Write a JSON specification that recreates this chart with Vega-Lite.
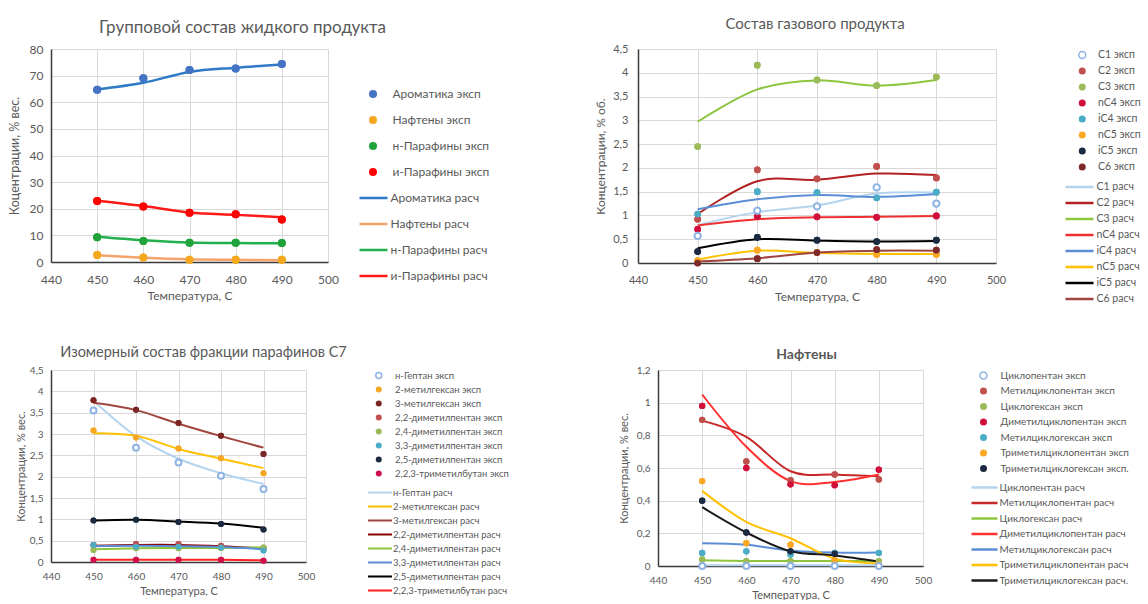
{
"$schema": "https://vega.github.io/schema/vega-lite/v6.json",
"background": "white",
"padding": {"left": 8, "top": 17, "right": 0, "bottom": 0},
"spacing": 39,
"resolve": {"scale": {"fill": "independent", "stroke": "independent"}, "legend": {"fill": "independent", "stroke": "independent"}},
"vconcat": [
{"spacing": 102,
 "resolve": {"scale": {"fill": "independent", "stroke": "independent"}, "legend": {"fill": "independent", "stroke": "independent"}},
 "hconcat": [
{
 "title": {"text": "Групповой состав жидкого продукта", "fontSize": 17, "offset": 6, "dx": 53},
 "width": 277, "height": 213,
 "data": {"values": [
  {"s":"Ароматика эксп","t":450,"v":64.7},{"s":"Ароматика эксп","t":460,"v":69.0},{"s":"Ароматика эксп","t":470,"v":72.1},{"s":"Ароматика эксп","t":480,"v":72.7},{"s":"Ароматика эксп","t":490,"v":74.4},
  {"s":"Нафтены эксп","t":450,"v":2.6},{"s":"Нафтены эксп","t":460,"v":1.7},{"s":"Нафтены эксп","t":470,"v":0.8},{"s":"Нафтены эксп","t":480,"v":0.8},{"s":"Нафтены эксп","t":490,"v":0.8},
  {"s":"н-Парафины эксп","t":450,"v":9.3},{"s":"н-Парафины эксп","t":460,"v":7.9},{"s":"н-Парафины эксп","t":470,"v":7.2},{"s":"н-Парафины эксп","t":480,"v":7.2},{"s":"н-Парафины эксп","t":490,"v":7.1},
  {"s":"и-Парафины эксп","t":450,"v":22.9},{"s":"и-Парафины эксп","t":460,"v":20.8},{"s":"и-Парафины эксп","t":470,"v":18.5},{"s":"и-Парафины эксп","t":480,"v":17.9},{"s":"и-Парафины эксп","t":490,"v":16.0},
  {"s":"Ароматика расч","t":450,"v":64.8},{"s":"Ароматика расч","t":460,"v":67.3},{"s":"Ароматика расч","t":470,"v":71.4},{"s":"Ароматика расч","t":480,"v":73.0},{"s":"Ароматика расч","t":490,"v":74.2},
  {"s":"Нафтены расч","t":450,"v":2.5},{"s":"Нафтены расч","t":460,"v":1.6},{"s":"Нафтены расч","t":470,"v":1.0},{"s":"Нафтены расч","t":480,"v":0.8},{"s":"Нафтены расч","t":490,"v":0.7},
  {"s":"н-Парафины расч","t":450,"v":9.5},{"s":"н-Парафины расч","t":460,"v":8.2},{"s":"н-Парафины расч","t":470,"v":7.3},{"s":"н-Парафины расч","t":480,"v":7.1},{"s":"н-Парафины расч","t":490,"v":7.0},
  {"s":"и-Парафины расч","t":450,"v":23.0},{"s":"и-Парафины расч","t":460,"v":21.0},{"s":"и-Парафины расч","t":470,"v":18.6},{"s":"и-Парафины расч","t":480,"v":17.7},{"s":"и-Парафины расч","t":490,"v":16.8}
 ]},
 "encoding": {
  "x": {"field":"t","type":"quantitative","scale":{"domain":[440,500],"nice":false},"axis":{"values":[440,450,460,470,480,490,500],"labelFlush":false,"title":"Температура, С","labelFontSize":12,"titleFontSize":12,"labelPadding":12,"titlePadding":5}},
  "y": {"field":"v","type":"quantitative","scale":{"domain":[0,80],"nice":false},"axis":{"values":[0,10,20,30,40,50,60,70,80],"title":"Коцентрации, % вес.","labelFontSize":12,"titleFontSize":12.5,"labelPadding":8,"titlePadding":8}}
 },
 "layer": [
  {"transform":[{"filter":"indexof(datum.s,'эксп')>=0"}],
   "mark":{"type":"point","shape":"circle","filled":true,"opacity":1,"size":64},
   "encoding":{"fill":{"field":"s","type":"nominal",
     "scale":{"domain":["Ароматика эксп","Нафтены эксп","н-Парафины эксп","и-Парафины эксп"],"range":["#4472C4","#F4A81D","#1FA33A","#FF0000"]},
     "legend":{"title":" ","titleFontSize":12,"titlePadding":24,"padding":2,"symbolType":"circle","symbolSize":64,"symbolOffset":9,"labelOffset":13.5,"labelFontSize":12,"clipHeight":14,"rowPadding":12,"offset":28}}}},
  {"transform":[{"filter":"indexof(datum.s,'расч')>=0"}],
   "mark":{"type":"line","interpolate":"cardinal","strokeWidth":2.5},
   "encoding":{"stroke":{"field":"s","type":"nominal",
     "scale":{"domain":["Ароматика расч","Нафтены расч","н-Парафины расч","и-Парафины расч"],"range":["#2F7AC6","#F4A46A","#21B04B","#FF1A1A"]},
     "legend":{"title":null,"padding":2,"symbolType":"stroke","symbolSize":784,"symbolStrokeWidth":2.5,"labelOffset":1.5,"labelFontSize":12,"clipHeight":14,"rowPadding":12,"offset":28}}}},
  {"transform":[{"filter":"indexof(datum.s,'эксп')>=0"}],
   "mark":{"type":"point","shape":"circle","filled":true,"opacity":1,"size":64},
   "encoding":{"fill":{"field":"s","type":"nominal",
     "scale":{"domain":["Ароматика эксп","Нафтены эксп","н-Парафины эксп","и-Парафины эксп"],"range":["#4472C4","#F4A81D","#1FA33A","#FF0000"]},
     "legend":null}}}
 ]
},
{
 "title": {"text": "Состав газового продукта", "fontSize": 15, "offset": 11, "dx": -2},
 "width": 358, "height": 214,
 "data": {"values": [
  {"s":"C1 эксп","t":450,"v":0.57},{"s":"C1 эксп","t":460,"v":1.10},{"s":"C1 эксп","t":470,"v":1.19},{"s":"C1 эксп","t":480,"v":1.59},{"s":"C1 эксп","t":490,"v":1.25},
  {"s":"C2 эксп","t":450,"v":0.92},{"s":"C2 эксп","t":460,"v":1.96},{"s":"C2 эксп","t":470,"v":1.77},{"s":"C2 эксп","t":480,"v":2.03},{"s":"C2 эксп","t":490,"v":1.79},
  {"s":"C3 эксп","t":450,"v":2.45},{"s":"C3 эксп","t":460,"v":4.16},{"s":"C3 эксп","t":470,"v":3.85},{"s":"C3 эксп","t":480,"v":3.73},{"s":"C3 эксп","t":490,"v":3.91},
  {"s":"nC4 эксп","t":450,"v":0.71},{"s":"nC4 эксп","t":460,"v":0.98},{"s":"nC4 эксп","t":470,"v":0.97},{"s":"nC4 эксп","t":480,"v":0.96},{"s":"nC4 эксп","t":490,"v":0.99},
  {"s":"iC4 эксп","t":450,"v":1.03},{"s":"iC4 эксп","t":460,"v":1.50},{"s":"iC4 эксп","t":470,"v":1.48},{"s":"iC4 эксп","t":480,"v":1.37},{"s":"iC4 эксп","t":490,"v":1.49},
  {"s":"nC5 эксп","t":450,"v":0.05},{"s":"nC5 эксп","t":460,"v":0.27},{"s":"nC5 эксп","t":470,"v":0.22},{"s":"nC5 эксп","t":480,"v":0.18},{"s":"nC5 эксп","t":490,"v":0.18},
  {"s":"iC5 эксп","t":450,"v":0.24},{"s":"iC5 эксп","t":460,"v":0.54},{"s":"iC5 эксп","t":470,"v":0.48},{"s":"iC5 эксп","t":480,"v":0.45},{"s":"iC5 эксп","t":490,"v":0.48},
  {"s":"C6 эксп","t":450,"v":0.0},{"s":"C6 эксп","t":460,"v":0.09},{"s":"C6 эксп","t":470,"v":0.22},{"s":"C6 эксп","t":480,"v":0.28},{"s":"C6 эксп","t":490,"v":0.27},
  {"s":"C1 расч","t":450,"v":0.80},{"s":"C1 расч","t":460,"v":1.07},{"s":"C1 расч","t":470,"v":1.21},{"s":"C1 расч","t":480,"v":1.46},{"s":"C1 расч","t":490,"v":1.48},
  {"s":"C2 расч","t":450,"v":1.03},{"s":"C2 расч","t":460,"v":1.72},{"s":"C2 расч","t":470,"v":1.75},{"s":"C2 расч","t":480,"v":1.88},{"s":"C2 расч","t":490,"v":1.85},
  {"s":"C3 расч","t":450,"v":2.97},{"s":"C3 расч","t":460,"v":3.65},{"s":"C3 расч","t":470,"v":3.84},{"s":"C3 расч","t":480,"v":3.73},{"s":"C3 расч","t":490,"v":3.85},
  {"s":"nC4 расч","t":450,"v":0.79},{"s":"nC4 расч","t":460,"v":0.92},{"s":"nC4 расч","t":470,"v":0.96},{"s":"nC4 расч","t":480,"v":0.97},{"s":"nC4 расч","t":490,"v":0.99},
  {"s":"iC4 расч","t":450,"v":1.13},{"s":"iC4 расч","t":460,"v":1.34},{"s":"iC4 расч","t":470,"v":1.43},{"s":"iC4 расч","t":480,"v":1.39},{"s":"iC4 расч","t":490,"v":1.45},
  {"s":"nC5 расч","t":450,"v":0.07},{"s":"nC5 расч","t":460,"v":0.26},{"s":"nC5 расч","t":470,"v":0.21},{"s":"nC5 расч","t":480,"v":0.19},{"s":"nC5 расч","t":490,"v":0.19},
  {"s":"iC5 расч","t":450,"v":0.31},{"s":"iC5 расч","t":460,"v":0.50},{"s":"iC5 расч","t":470,"v":0.47},{"s":"iC5 расч","t":480,"v":0.45},{"s":"iC5 расч","t":490,"v":0.46},
  {"s":"C6 расч","t":450,"v":0.03},{"s":"C6 расч","t":460,"v":0.10},{"s":"C6 расч","t":470,"v":0.22},{"s":"C6 расч","t":480,"v":0.26},{"s":"C6 расч","t":490,"v":0.26}
 ]},
 "encoding": {
  "x": {"field":"t","type":"quantitative","scale":{"domain":[440,500],"nice":false},"axis":{"values":[440,450,460,470,480,490,500],"labelFlush":false,"title":"Температура, С","labelFontSize":11,"titleFontSize":12,"labelPadding":11,"titlePadding":6}},
  "y": {"field":"v","type":"quantitative","scale":{"domain":[0,4.5],"nice":false},"axis":{"values":[0,0.5,1,1.5,2,2.5,3,3.5,4,4.5],"labelExpr":"replace(format(datum.value,'~g'),'.',',')","title":"Концентрации, % об.","labelFontSize":11,"titleFontSize":12,"labelPadding":10,"titlePadding":5}}
 },
 "layer": [
  {"transform":[{"filter":"indexof(datum.s,'эксп')>=0"}],
   "mark":{"type":"point","shape":"circle","filled":true,"opacity":1,"size":45},
   "encoding":{"fill":{"field":"s","type":"nominal",
     "scale":{"domain":["C1 эксп","C2 эксп","C3 эксп","nC4 эксп","iC4 эксп","nC5 эксп","iC5 эксп","C6 эксп"],"range":["white","#C0504D","#9BBB59","#D0103A","#4BACC6","#F9A825","#1B2A41","#7F2A2A"]},
     "legend":{"title":null,"symbolType":"circle","symbolSize":49,"symbolOffset":13,"labelOffset":10.5,"labelFontSize":10.5,"clipHeight":12,"rowPadding":4,"offset":68,
       "symbolStrokeWidth":1.5,"symbolStrokeColor":{"expr":"datum.value==='C1 эксп' ? '#8DB4E2' : 'transparent'"}}}}},
  {"transform":[{"filter":"indexof(datum.s,'расч')>=0"}],
   "mark":{"type":"line","interpolate":"cardinal","strokeWidth":2},
   "encoding":{"stroke":{"field":"s","type":"nominal",
     "scale":{"domain":["C1 расч","C2 расч","C3 расч","nC4 расч","iC4 расч","nC5 расч","iC5 расч","C6 расч"],"range":["#B4D4EE","#B22222","#8CC63F","#F03030","#5B8ED6","#FFC000","#000000","#A0453F"]},
     "legend":{"title":null,"symbolType":"stroke","symbolSize":784,"symbolStrokeWidth":2.5,"labelOffset":1.5,"labelFontSize":10.5,"clipHeight":12,"rowPadding":4,"offset":68}}}},
  {"transform":[{"filter":"indexof(datum.s,'эксп')>=0"}],
   "mark":{"type":"point","shape":"circle","filled":true,"opacity":1,"size":45},
   "encoding":{"fill":{"field":"s","type":"nominal",
     "scale":{"domain":["C1 эксп","C2 эксп","C3 эксп","nC4 эксп","iC4 эксп","nC5 эксп","iC5 эксп","C6 эксп"],"range":["white","#C0504D","#9BBB59","#D0103A","#4BACC6","#F9A825","#1B2A41","#7F2A2A"]},
     "legend":null}}},
  {"transform":[{"filter":"datum.s==='C1 эксп'"}],
   "mark":{"type":"point","shape":"circle","filled":true,"fill":"white","stroke":"#8DB4E2","strokeWidth":2,"opacity":1,"size":40}}
 ]
}
]},
{"spacing": 109,
 "resolve": {"scale": {"fill": "independent", "stroke": "independent"}, "legend": {"fill": "independent", "stroke": "independent"}},
 "hconcat": [
{
 "title": {"text": "Изомерный состав фракции парафинов С7", "fontSize": 14.5, "offset": 5, "dx": 25},
 "width": 255, "height": 192,
 "data": {"values": [
  {"s":"н-Гептан эксп","t":450,"v":3.55},{"s":"н-Гептан эксп","t":460,"v":2.68},{"s":"н-Гептан эксп","t":470,"v":2.33},{"s":"н-Гептан эксп","t":480,"v":2.02},{"s":"н-Гептан эксп","t":490,"v":1.71},
  {"s":"2-метилгексан эксп","t":450,"v":3.08},{"s":"2-метилгексан эксп","t":460,"v":2.92},{"s":"2-метилгексан эксп","t":470,"v":2.66},{"s":"2-метилгексан эксп","t":480,"v":2.43},{"s":"2-метилгексан эксп","t":490,"v":2.08},
  {"s":"3-метилгексан эксп","t":450,"v":3.79},{"s":"3-метилгексан эксп","t":460,"v":3.57},{"s":"3-метилгексан эксп","t":470,"v":3.26},{"s":"3-метилгексан эксп","t":480,"v":2.96},{"s":"3-метилгексан эксп","t":490,"v":2.53},
  {"s":"2,2-диметилпентан эксп","t":450,"v":0.40},{"s":"2,2-диметилпентан эксп","t":460,"v":0.42},{"s":"2,2-диметилпентан эксп","t":470,"v":0.42},{"s":"2,2-диметилпентан эксп","t":480,"v":0.38},{"s":"2,2-диметилпентан эксп","t":490,"v":0.33},
  {"s":"2,4-диметилпентан эксп","t":450,"v":0.28},{"s":"2,4-диметилпентан эксп","t":460,"v":0.32},{"s":"2,4-диметилпентан эксп","t":470,"v":0.32},{"s":"2,4-диметилпентан эксп","t":480,"v":0.33},{"s":"2,4-диметилпентан эксп","t":490,"v":0.34},
  {"s":"3,3-диметилпентан эксп","t":450,"v":0.40},{"s":"3,3-диметилпентан эксп","t":460,"v":0.36},{"s":"3,3-диметилпентан эксп","t":470,"v":0.36},{"s":"3,3-диметилпентан эксп","t":480,"v":0.34},{"s":"3,3-диметилпентан эксп","t":490,"v":0.27},
  {"s":"2,5-диметилпентан эксп","t":450,"v":0.97},{"s":"2,5-диметилпентан эксп","t":460,"v":0.99},{"s":"2,5-диметилпентан эксп","t":470,"v":0.94},{"s":"2,5-диметилпентан эксп","t":480,"v":0.89},{"s":"2,5-диметилпентан эксп","t":490,"v":0.76},
  {"s":"2,2,3-триметилбутан эксп","t":450,"v":0.05},{"s":"2,2,3-триметилбутан эксп","t":460,"v":0.05},{"s":"2,2,3-триметилбутан эксп","t":470,"v":0.05},{"s":"2,2,3-триметилбутан эксп","t":480,"v":0.05},{"s":"2,2,3-триметилбутан эксп","t":490,"v":0.03},
  {"s":"н-Гептан расч","t":450,"v":3.78},{"s":"н-Гептан расч","t":460,"v":2.95},{"s":"н-Гептан расч","t":470,"v":2.42},{"s":"н-Гептан расч","t":480,"v":2.08},{"s":"н-Гептан расч","t":490,"v":1.83},
  {"s":"2-метилгексан расч","t":450,"v":3.02},{"s":"2-метилгексан расч","t":460,"v":2.96},{"s":"2-метилгексан расч","t":470,"v":2.65},{"s":"2-метилгексан расч","t":480,"v":2.42},{"s":"2-метилгексан расч","t":490,"v":2.20},
  {"s":"3-метилгексан расч","t":450,"v":3.73},{"s":"3-метилгексан расч","t":460,"v":3.56},{"s":"3-метилгексан расч","t":470,"v":3.24},{"s":"3-метилгексан расч","t":480,"v":2.95},{"s":"3-метилгексан расч","t":490,"v":2.68},
  {"s":"2,2-диметилпентан расч","t":450,"v":0.38},{"s":"2,2-диметилпентан расч","t":460,"v":0.40},{"s":"2,2-диметилпентан расч","t":470,"v":0.40},{"s":"2,2-диметилпентан расч","t":480,"v":0.37},{"s":"2,2-диметилпентан расч","t":490,"v":0.32},
  {"s":"2,4-диметилпентан расч","t":450,"v":0.30},{"s":"2,4-диметилпентан расч","t":460,"v":0.32},{"s":"2,4-диметилпентан расч","t":470,"v":0.33},{"s":"2,4-диметилпентан расч","t":480,"v":0.33},{"s":"2,4-диметилпентан расч","t":490,"v":0.34},
  {"s":"3,3-диметилпентан расч","t":450,"v":0.37},{"s":"3,3-диметилпентан расч","t":460,"v":0.38},{"s":"3,3-диметилпентан расч","t":470,"v":0.37},{"s":"3,3-диметилпентан расч","t":480,"v":0.35},{"s":"3,3-диметилпентан расч","t":490,"v":0.30},
  {"s":"2,5-диметилпентан расч","t":450,"v":0.97},{"s":"2,5-диметилпентан расч","t":460,"v":0.99},{"s":"2,5-диметилпентан расч","t":470,"v":0.95},{"s":"2,5-диметилпентан расч","t":480,"v":0.90},{"s":"2,5-диметилпентан расч","t":490,"v":0.80},
  {"s":"2,2,3-триметилбутан расч","t":450,"v":0.05},{"s":"2,2,3-триметилбутан расч","t":460,"v":0.05},{"s":"2,2,3-триметилбутан расч","t":470,"v":0.05},{"s":"2,2,3-триметилбутан расч","t":480,"v":0.05},{"s":"2,2,3-триметилбутан расч","t":490,"v":0.04}
 ]},
 "encoding": {
  "x": {"field":"t","type":"quantitative","scale":{"domain":[440,500],"nice":false},"axis":{"values":[440,450,460,470,480,490,500],"labelFlush":false,"title":"Температура, С","labelFontSize":10,"titleFontSize":11,"labelPadding":9,"titlePadding":4}},
  "y": {"field":"v","type":"quantitative","scale":{"domain":[0,4.5],"nice":false},"axis":{"values":[0,0.5,1,1.5,2,2.5,3,3.5,4,4.5],"labelExpr":"replace(format(datum.value,'~g'),'.',',')","title":"Концентрации, % вес.","labelFontSize":10,"titleFontSize":11,"labelPadding":8,"titlePadding":3}}
 },
 "layer": [
  {"transform":[{"filter":"indexof(datum.s,'эксп')>=0"}],
   "mark":{"type":"point","shape":"circle","filled":true,"opacity":1,"size":36},
   "encoding":{"fill":{"field":"s","type":"nominal",
     "scale":{"domain":["н-Гептан эксп","2-метилгексан эксп","3-метилгексан эксп","2,2-диметилпентан эксп","2,4-диметилпентан эксп","3,3-диметилпентан эксп","2,5-диметилпентан эксп","2,2,3-триметилбутан эксп"],"range":["white","#F5A623","#7B2525","#C0504D","#9BBB59","#4BACC6","#1B2A41","#D0104C"]},
     "legend":{"title":null,"symbolType":"circle","symbolSize":36,"symbolOffset":7,"labelOffset":11.5,"labelFontSize":9.5,"clipHeight":11,"rowPadding":3,"offset":61,
       "symbolStrokeWidth":1.5,"symbolStrokeColor":{"expr":"datum.value==='н-Гептан эксп' ? '#8DB4E2' : 'transparent'"}}}}},
  {"transform":[{"filter":"indexof(datum.s,'расч')>=0"}],
   "mark":{"type":"line","interpolate":"cardinal","strokeWidth":2},
   "encoding":{"stroke":{"field":"s","type":"nominal",
     "scale":{"domain":["н-Гептан расч","2-метилгексан расч","3-метилгексан расч","2,2-диметилпентан расч","2,4-диметилпентан расч","3,3-диметилпентан расч","2,5-диметилпентан расч","2,2,3-триметилбутан расч"],"range":["#B4D4EE","#FFC000","#A0453F","#8B0000","#8CC63F","#5B8ED6","#000000","#FF2020"]},
     "legend":{"title":null,"symbolType":"stroke","symbolSize":576,"symbolStrokeWidth":2,"labelOffset":0,"labelFontSize":9.5,"clipHeight":11,"rowPadding":3,"offset":61}}}},
  {"transform":[{"filter":"indexof(datum.s,'эксп')>=0"}],
   "mark":{"type":"point","shape":"circle","filled":true,"opacity":1,"size":36},
   "encoding":{"fill":{"field":"s","type":"nominal",
     "scale":{"domain":["н-Гептан эксп","2-метилгексан эксп","3-метилгексан эксп","2,2-диметилпентан эксп","2,4-диметилпентан эксп","3,3-диметилпентан эксп","2,5-диметилпентан эксп","2,2,3-триметилбутан эксп"],"range":["white","#F5A623","#7B2525","#C0504D","#9BBB59","#4BACC6","#1B2A41","#D0104C"]},
     "legend":null}}},
  {"transform":[{"filter":"datum.s==='н-Гептан эксп'"}],
   "mark":{"type":"point","shape":"circle","filled":true,"fill":"white","stroke":"#8DB4E2","strokeWidth":2,"opacity":1,"size":36}}
 ]
},
{
 "title": {"text": "Нафтены", "fontSize": 14, "fontWeight": "bold", "offset": 3, "dx": 16},
 "width": 265, "height": 196,
 "data": {"values": [
  {"s":"Циклопентан эксп","t":450,"v":0},{"s":"Циклопентан эксп","t":460,"v":0},{"s":"Циклопентан эксп","t":470,"v":0},{"s":"Циклопентан эксп","t":480,"v":0},{"s":"Циклопентан эксп","t":490,"v":0},
  {"s":"Метилциклопентан эксп","t":450,"v":0.895},{"s":"Метилциклопентан эксп","t":460,"v":0.64},{"s":"Метилциклопентан эксп","t":470,"v":0.525},{"s":"Метилциклопентан эксп","t":480,"v":0.56},{"s":"Метилциклопентан эксп","t":490,"v":0.53},
  {"s":"Циклогексан эксп","t":450,"v":0.04},{"s":"Циклогексан эксп","t":460,"v":0.03},{"s":"Циклогексан эксп","t":470,"v":0.03},{"s":"Циклогексан эксп","t":480,"v":0.03},{"s":"Циклогексан эксп","t":490,"v":0.03},
  {"s":"Диметилциклопентан эксп","t":450,"v":0.98},{"s":"Диметилциклопентан эксп","t":460,"v":0.60},{"s":"Диметилциклопентан эксп","t":470,"v":0.50},{"s":"Диметилциклопентан эксп","t":480,"v":0.495},{"s":"Диметилциклопентан эксп","t":490,"v":0.59},
  {"s":"Метилциклогексан эксп","t":450,"v":0.08},{"s":"Метилциклогексан эксп","t":460,"v":0.09},{"s":"Метилциклогексан эксп","t":470,"v":0.07},{"s":"Метилциклогексан эксп","t":480,"v":0.08},{"s":"Метилциклогексан эксп","t":490,"v":0.08},
  {"s":"Триметилциклопентан эксп","t":450,"v":0.52},{"s":"Триметилциклопентан эксп","t":460,"v":0.14},{"s":"Триметилциклопентан эксп","t":470,"v":0.13},{"s":"Триметилциклопентан эксп","t":480,"v":0.035},{"s":"Триметилциклопентан эксп","t":490,"v":0.01},
  {"s":"Триметилциклогексан эксп.","t":450,"v":0.40},{"s":"Триметилциклогексан эксп.","t":460,"v":0.205},{"s":"Триметилциклогексан эксп.","t":470,"v":0.09},{"s":"Триметилциклогексан эксп.","t":480,"v":0.075},{"s":"Триметилциклогексан эксп.","t":490,"v":0.0},
  {"s":"Циклопентан расч","t":450,"v":0.005},{"s":"Циклопентан расч","t":460,"v":0.005},{"s":"Циклопентан расч","t":470,"v":0.005},{"s":"Циклопентан расч","t":480,"v":0.005},{"s":"Циклопентан расч","t":490,"v":0.005},
  {"s":"Метилциклопентан расч","t":450,"v":0.89},{"s":"Метилциклопентан расч","t":460,"v":0.79},{"s":"Метилциклопентан расч","t":470,"v":0.58},{"s":"Метилциклопентан расч","t":480,"v":0.56},{"s":"Метилциклопентан расч","t":490,"v":0.55},
  {"s":"Циклогексан расч","t":450,"v":0.035},{"s":"Циклогексан расч","t":460,"v":0.03},{"s":"Циклогексан расч","t":470,"v":0.03},{"s":"Циклогексан расч","t":480,"v":0.03},{"s":"Циклогексан расч","t":490,"v":0.03},
  {"s":"Диметилциклопентан расч","t":450,"v":1.05},{"s":"Диметилциклопентан расч","t":460,"v":0.73},{"s":"Диметилциклопентан расч","t":470,"v":0.52},{"s":"Диметилциклопентан расч","t":480,"v":0.515},{"s":"Диметилциклопентан расч","t":490,"v":0.56},
  {"s":"Метилциклогексан расч","t":450,"v":0.14},{"s":"Метилциклогексан расч","t":460,"v":0.13},{"s":"Метилциклогексан расч","t":470,"v":0.095},{"s":"Метилциклогексан расч","t":480,"v":0.082},{"s":"Метилциклогексан расч","t":490,"v":0.082},
  {"s":"Триметилциклопентан расч","t":450,"v":0.46},{"s":"Триметилциклопентан расч","t":460,"v":0.27},{"s":"Триметилциклопентан расч","t":470,"v":0.17},{"s":"Триметилциклопентан расч","t":480,"v":0.045},{"s":"Триметилциклопентан расч","t":490,"v":0.016},
  {"s":"Триметилциклогексан расч.","t":450,"v":0.36},{"s":"Триметилциклогексан расч.","t":460,"v":0.205},{"s":"Триметилциклогексан расч.","t":470,"v":0.09},{"s":"Триметилциклогексан расч.","t":480,"v":0.065},{"s":"Триметилциклогексан расч.","t":490,"v":0.028}
 ]},
 "encoding": {
  "x": {"field":"t","type":"quantitative","scale":{"domain":[440,500],"nice":false},"axis":{"values":[440,450,460,470,480,490,500],"labelFlush":false,"title":"Температура, С","labelFontSize":10,"titleFontSize":11,"labelPadding":9,"titlePadding":4}},
  "y": {"field":"v","type":"quantitative","scale":{"domain":[0,1.2],"nice":false},"axis":{"values":[0,0.2,0.4,0.6,0.8,1,1.2],"labelExpr":"replace(format(datum.value,'~g'),'.',',')","title":"Концентрации, % вес.","labelFontSize":10,"titleFontSize":11,"labelPadding":8,"titlePadding":7}}
 },
 "layer": [
  {"transform":[{"filter":"indexof(datum.s,'эксп')>=0"}],
   "mark":{"type":"point","shape":"circle","filled":true,"opacity":1,"size":40},
   "encoding":{"fill":{"field":"s","type":"nominal",
     "scale":{"domain":["Циклопентан эксп","Метилциклопентан эксп","Циклогексан эксп","Диметилциклопентан эксп","Метилциклогексан эксп","Триметилциклопентан эксп","Триметилциклогексан эксп."],"range":["white","#C0504D","#9BBB59","#D0103A","#4BACC6","#F9A825","#1B2A41"]},
     "legend":{"title":null,"symbolType":"circle","symbolSize":49,"symbolOffset":8.5,"labelOffset":12,"labelFontSize":10,"clipHeight":11,"rowPadding":4.5,"offset":47,
       "symbolStrokeWidth":1.5,"symbolStrokeColor":{"expr":"datum.value==='Циклопентан эксп' ? '#8DB4E2' : 'transparent'"}}}}},
  {"transform":[{"filter":"indexof(datum.s,'расч')>=0"}],
   "mark":{"type":"line","interpolate":"cardinal","strokeWidth":2},
   "encoding":{"stroke":{"field":"s","type":"nominal",
     "scale":{"domain":["Циклопентан расч","Метилциклопентан расч","Циклогексан расч","Диметилциклопентан расч","Метилциклогексан расч","Триметилциклопентан расч","Триметилциклогексан расч."],"range":["#B4D4EE","#C62828","#8CC63F","#FF3030","#5B8ED6","#FFC000","#1A1A1A"]},
     "legend":{"title":null,"symbolType":"stroke","symbolSize":676,"symbolStrokeWidth":2.5,"labelOffset":0.5,"labelFontSize":10,"clipHeight":11,"rowPadding":4.5,"offset":47}}}},
  {"transform":[{"filter":"indexof(datum.s,'эксп')>=0"}],
   "mark":{"type":"point","shape":"circle","filled":true,"opacity":1,"size":40},
   "encoding":{"fill":{"field":"s","type":"nominal",
     "scale":{"domain":["Циклопентан эксп","Метилциклопентан эксп","Циклогексан эксп","Диметилциклопентан эксп","Метилциклогексан эксп","Триметилциклопентан эксп","Триметилциклогексан эксп."],"range":["white","#C0504D","#9BBB59","#D0103A","#4BACC6","#F9A825","#1B2A41"]},
     "legend":null}}},
  {"transform":[{"filter":"datum.s==='Циклопентан эксп'"}],
   "mark":{"type":"point","shape":"circle","filled":true,"fill":"white","stroke":"#8DB4E2","strokeWidth":2,"opacity":1,"size":36}}
 ]
}
]}
],
"config": {
 "font": "Lato",
 "view": {"stroke": null},
 "axis": {"grid": true, "gridColor": "#d9d9d9", "gridWidth": 1, "ticks": false, "domainColor": "#3a3a3a", "domainWidth": 1.5, "labelColor": "#595959", "titleColor": "#595959", "titleFontWeight": "normal", "labelFont": "Lato", "titleFont": "Lato"},
 "legend": {"labelColor": "#595959", "labelFont": "Lato", "padding": 0, "orient": "right", "labelLimit": 200},
 "title": {"color": "#595959", "fontWeight": "normal", "font": "Lato", "anchor": "middle"}
}
}
